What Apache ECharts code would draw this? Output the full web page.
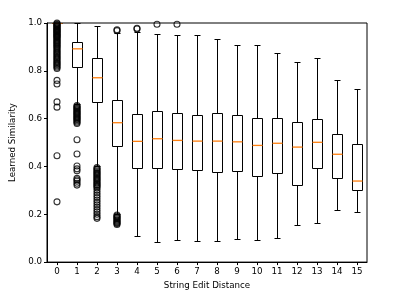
<!DOCTYPE html>
<html>
<head>
<meta charset="utf-8">
<script src="https://cdn.jsdelivr.net/npm/echarts@6/dist/echarts.min.js"></script>
<style>html,body{margin:0;padding:0;background:#fff}#c{width:395px;height:295px}</style>
</head>
<body>
<div id="c"></div>
<script>
const categories = ['0','1','2','3','4','5','6','7','8','9','10','11','12','13','14','15'];
const whiskerLow  = [0.998, 0.66, 0.40, 0.20, 0.109, 0.086, 0.093, 0.090, 0.090, 0.098, 0.093, 0.100, 0.155, 0.165, 0.219, 0.209];
const q1          = [0.998, 0.815, 0.669, 0.485, 0.392, 0.393, 0.390, 0.386, 0.378, 0.380, 0.362, 0.372, 0.324, 0.393, 0.353, 0.300];
const median      = [1.0, 0.892, 0.771, 0.583, 0.505, 0.516, 0.509, 0.506, 0.506, 0.503, 0.488, 0.497, 0.481, 0.501, 0.451, 0.339];
const q3          = [1.0, 0.922, 0.853, 0.678, 0.621, 0.631, 0.624, 0.615, 0.622, 0.615, 0.604, 0.602, 0.584, 0.599, 0.534, 0.492];
const whiskerHigh = [1.0, 0.999, 0.988, 0.958, 0.964, 0.954, 0.949, 0.949, 0.935, 0.907, 0.907, 0.874, 0.837, 0.855, 0.763, 0.722];
const outliers = [
  [1.0, 0.997, 0.994, 0.991, 0.988, 0.985, 0.982, 0.979, 0.976, 0.973, 0.97, 0.967, 0.964, 0.961, 0.958, 0.955, 0.952, 0.949, 0.946, 0.943, 0.94, 0.936, 0.932, 0.928, 0.924, 0.92, 0.916, 0.912, 0.908, 0.904, 0.9, 0.895, 0.89, 0.885, 0.88, 0.875, 0.87, 0.865, 0.86, 0.855, 0.85, 0.845, 0.84, 0.835, 0.83, 0.825, 0.82, 0.815, 0.81, 0.76, 0.745, 0.67, 0.648, 0.445, 0.252],
  [0.655, 0.651, 0.647, 0.643, 0.639, 0.635, 0.631, 0.627, 0.623, 0.619, 0.615, 0.611, 0.607, 0.603, 0.599, 0.595, 0.59, 0.585, 0.58, 0.512, 0.452, 0.402, 0.39, 0.382, 0.35, 0.344, 0.338, 0.33, 0.322],
  [0.395, 0.39, 0.385, 0.38, 0.375, 0.37, 0.365, 0.36, 0.355, 0.35, 0.345, 0.34, 0.335, 0.33, 0.325, 0.32, 0.315, 0.31, 0.3, 0.29, 0.28, 0.27, 0.26, 0.25, 0.24, 0.23, 0.22, 0.21, 0.2, 0.19, 0.183],
  [0.972, 0.968, 0.197, 0.193, 0.189, 0.185, 0.181, 0.177, 0.173, 0.169, 0.165, 0.161, 0.157],
  [0.978, 0.975],
  [0.995],
  [0.995],
  [], [], [], [], [], [], [], [], []
];
const yTicks = [0, 0.2, 0.4, 0.6, 0.8, 1.0];

const boxData = categories.map((c, i) => [i, whiskerLow[i], q1[i], median[i], q3[i], whiskerHigh[i]]);
const outlierData = [];
outliers.forEach((arr, i) => arr.forEach(v => outlierData.push([i, v])));

const font = 'DejaVu Sans';
const px = v => Math.round(v) + 0.5;
const chart = echarts.init(document.getElementById('c'), null, {renderer: 'canvas'});
chart.setOption({
  animation: false,
  grid: {left: 45, right: 28, top: 23, bottom: 31, show: true, borderColor: '#000', borderWidth: 1, backgroundColor: 'transparent'},
  xAxis: {
    type: 'category', data: categories, boundaryGap: true,
    name: 'String Edit Distance', nameLocation: 'middle', nameGap: 18,
    nameTextStyle: {fontFamily: font, fontSize: 8.7, color: '#000'},
    axisLine: {show: true, lineStyle: {color: '#000', width: 1}},
    axisTick: {show: true, alignWithLabel: true, length: 3, lineStyle: {color: '#000'}},
    axisLabel: {fontFamily: font, fontSize: 8.7, color: '#000', margin: 5, interval: 0},
    splitLine: {show: false}
  },
  yAxis: {
    type: 'value', min: 0, max: 1, interval: 0.2,
    name: 'Learned Similarity', nameLocation: 'middle', nameGap: 30,
    nameTextStyle: {fontFamily: font, fontSize: 8.7, color: '#000'},
    axisLine: {show: true, lineStyle: {color: '#000', width: 1}},
    axisTick: {show: true, length: 3, lineStyle: {color: '#000'}},
    axisLabel: {fontFamily: font, fontSize: 8.7, color: '#000', margin: 5, formatter: v => yTicks.some(t => Math.abs(t - v) < 1e-9) ? v.toFixed(1) : ''},
    splitLine: {show: false}
  },
  series: [
    {
      type: 'custom',
      data: boxData,
      encode: {x: 0, y: [1, 2, 3, 4, 5]},
      clip: true,
      renderItem: function (params, api) {
        const x = api.value(0);
        const yLo = px(api.coord([x, api.value(1)])[1]);
        const yQ1 = px(api.coord([x, api.value(2)])[1]);
        const yMed = api.coord([x, api.value(3)])[1];
        const yQ3 = px(api.coord([x, api.value(4)])[1]);
        const yHi = px(api.coord([x, api.value(5)])[1]);
        const bw = Math.round(api.size([1, 0])[0] * 0.5);
        const cx = px(api.coord([x, 0])[0]);
        const h = bw / 2, c = Math.round(bw / 4);
        const st = {stroke: '#000', lineWidth: 1, fill: null};
        return {
          type: 'group',
          children: [
            {type: 'line', shape: {x1: cx, y1: yQ3, x2: cx, y2: yHi}, style: st},
            {type: 'line', shape: {x1: cx, y1: yQ1, x2: cx, y2: yLo}, style: st},
            {type: 'line', shape: {x1: cx - c, y1: yHi, x2: cx + c, y2: yHi}, style: st},
            {type: 'line', shape: {x1: cx - c, y1: yLo, x2: cx + c, y2: yLo}, style: st},
            {type: 'rect', shape: {x: cx - h, y: yQ3, width: bw, height: yQ1 - yQ3}, style: {stroke: '#000', lineWidth: 1, fill: 'none'}},
            {type: 'line', z2: 10, shape: {x1: cx - h, y1: yMed, x2: cx + h, y2: yMed}, style: {stroke: '#ff7f0e', lineWidth: 1.3}}
          ]
        };
      }
    },
    {
      type: 'scatter',
      data: outlierData,
      symbol: 'circle',
      symbolSize: 6,
      clip: true,
      itemStyle: {color: 'rgba(0,0,0,0)', borderColor: '#000', borderWidth: 1.1},
      z: 3
    }
  ]
});
</script>
</body>
</html>
